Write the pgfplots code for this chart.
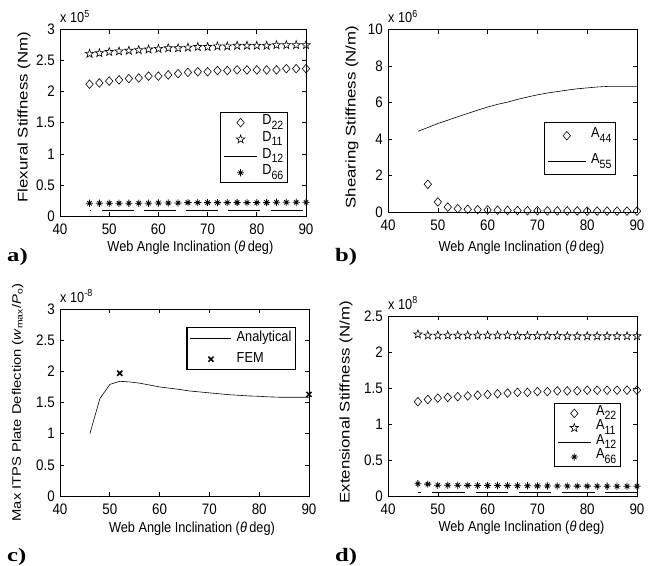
\documentclass[border=0pt]{standalone}
\usepackage{fontspec}
\setmainfont{Liberation Sans}[FakeStretch=0.88]
\newfontfamily\vfont{Liberation Sans}[FakeStretch=1.2]
\newfontfamily\lfont{Liberation Serif}[FakeStretch=1.3]
\usepackage{pgfplots}
\pgfplotsset{compat=1.18}
\newcommand\hf{\fontsize{14.5}{16}\selectfont}
\newcommand\tf{\fontsize{15.2}{16}\selectfont}
\newcommand\vf{\vfont\fontsize{14}{15}\selectfont}
\newcommand\sub[1]{\raisebox{-4.5pt}{\fontsize{12}{12}\selectfont #1}}
\pgfdeclareplotmark{pentagram}{%
  \pgfpathmoveto{\pgfpointpolar{90}{\pgfplotmarksize}}%
  \pgfpathlineto{\pgfpointpolar{126}{0.4*\pgfplotmarksize}}%
  \pgfpathlineto{\pgfpointpolar{162}{\pgfplotmarksize}}%
  \pgfpathlineto{\pgfpointpolar{198}{0.4*\pgfplotmarksize}}%
  \pgfpathlineto{\pgfpointpolar{234}{\pgfplotmarksize}}%
  \pgfpathlineto{\pgfpointpolar{270}{0.4*\pgfplotmarksize}}%
  \pgfpathlineto{\pgfpointpolar{306}{\pgfplotmarksize}}%
  \pgfpathlineto{\pgfpointpolar{342}{0.4*\pgfplotmarksize}}%
  \pgfpathlineto{\pgfpointpolar{18}{\pgfplotmarksize}}%
  \pgfpathlineto{\pgfpointpolar{54}{0.4*\pgfplotmarksize}}%
  \pgfpathclose\pgfusepathqstroke}
\pgfdeclareplotmark{mlstar}{%
  \pgfpathmoveto{\pgfqpoint{-\pgfplotmarksize}{0pt}}\pgfpathlineto{\pgfqpoint{\pgfplotmarksize}{0pt}}%
  \pgfpathmoveto{\pgfqpoint{0pt}{-\pgfplotmarksize}}\pgfpathlineto{\pgfqpoint{0pt}{\pgfplotmarksize}}%
  \pgfpathmoveto{\pgfqpoint{-.6\pgfplotmarksize}{-.6\pgfplotmarksize}}\pgfpathlineto{\pgfqpoint{.6\pgfplotmarksize}{.6\pgfplotmarksize}}%
  \pgfpathmoveto{\pgfqpoint{-.6\pgfplotmarksize}{.6\pgfplotmarksize}}\pgfpathlineto{\pgfqpoint{.6\pgfplotmarksize}{-.6\pgfplotmarksize}}%
  \pgfusepathqstroke}
\pgfplotsset{
  mat/.style={
    scale only axis, clip=false,
    xmin=40, xmax=90, xtick={40,50,...,90},
    tick align=inside, major tick length=4pt,
    every tick/.style={black, line width=0.6pt},
    axis line style={line width=0.8pt},
    tick label style={font=\tf, inner sep=1pt},
    xticklabel style={yshift=-6.5pt},
    yticklabel style={xshift=-4pt},
    /pgf/number format/assume math mode=true,
    legend cell align=left,
    legend style={draw=black, line width=1.4pt, fill=white, inner xsep=3pt, inner ysep=2pt, font=\hf,
       /tikz/every odd column/.append style={column sep=4pt}},
    xlabel={Web Angle Inclination (\textit{θ}\,deg)},
    xlabel style={font=\hf, anchor=center},
    ylabel style={font=\vf, anchor=center},
  },
  dia/.style={only marks, mark=diamond, mark size=4.3pt, line width=0.6pt, mark options={xscale=1.15, solid}},
  pst/.style={only marks, mark=pentagram, mark size=4.4pt, line width=0.6pt},
  ast/.style={only marks, mark=mlstar, mark size=3.6pt, line width=0.8pt},
}
\begin{document}
\begin{tikzpicture}
\useasboundingbox (0pt,0pt) rectangle (658pt,-565pt);
% ---------------- a ----------------
\begin{axis}[mat, width=246pt, height=186.5pt, at={(60pt,-216pt)}, anchor=south west,
  ymin=0, ymax=3, ytick={0,0.5,...,3},
  ylabel={Flexural Stiffness (Nm)},
  ylabel style={at={(rel axis cs:-0.146,0.53)}},
  xlabel style={at={(rel axis cs:0.53,-0.1716)}},
  legend image code/.code={\draw[mark repeat=2,mark phase=2,#1] plot coordinates {(0pt,0pt)(16.5pt,0pt)(33pt,0pt)};},
  legend style={at={(rel axis cs:0.927,0.558)}, anchor=north east,
    nodes={inner sep=1pt, text height=9pt, text depth=5pt}, row sep=0.7pt},
]
\addplot[dia] coordinates {(46,2.12)(48,2.14)(50,2.17)(52,2.19)(54,2.21)(56,2.22)(58,2.25)(60,2.25)(62,2.27)(64,2.29)(66,2.31)(68,2.32)(70,2.32)(72,2.34)(74,2.34)(76,2.35)(78,2.35)(80,2.35)(82,2.35)(84,2.35)(86,2.37)(88,2.37)(90,2.37)};
\addlegendentry{D\sub{22}}
\addplot[pst] coordinates {(46,2.61)(48,2.62)(50,2.64)(52,2.65)(54,2.66)(56,2.67)(58,2.68)(60,2.69)(62,2.70)(64,2.70)(66,2.71)(68,2.72)(70,2.72)(72,2.73)(74,2.73)(76,2.74)(78,2.74)(80,2.74)(82,2.74)(84,2.75)(86,2.75)(88,2.75)(90,2.75)};
\addlegendentry{D\sub{11}}
\addplot[forget plot, line width=0.6pt, dash pattern=on 32pt off 10.3pt, dash phase=30.3pt] coordinates {(46,0.085)(90,0.085)};
\addlegendimage{line width=0.6pt, mark=none}
\addlegendentry{D\sub{12}}
\addplot[ast] coordinates {(46,0.205)(48,0.205)(50,0.205)(52,0.205)(54,0.205)(56,0.205)(58,0.205)(60,0.21)(62,0.21)(64,0.21)(66,0.215)(68,0.215)(70,0.215)(72,0.215)(74,0.215)(76,0.215)(78,0.215)(80,0.215)(82,0.215)(84,0.22)(86,0.22)(88,0.22)(90,0.22)};
\addlegendentry{D\sub{66}}
\node[anchor=base west, font=\hf, inner sep=0pt, yshift=7pt] at (rel axis cs:0,1) {x 10\textsuperscript{5}};
\end{axis}
% ---------------- b ----------------
\begin{axis}[mat, width=249pt, height=182.5pt, at={(388pt,-212pt)}, anchor=south west,
  ymin=0, ymax=10, ytick={0,2,...,10},
  ylabel={Shearing Stiffness (N/m)},
  ylabel style={at={(rel axis cs:-0.145,0.52)}},
  xlabel style={at={(rel axis cs:0.536,-0.197)}},
  legend image code/.code={\draw[mark repeat=2,mark phase=2,#1] plot coordinates {(0pt,0pt)(19pt,0pt)(38pt,0pt)};},
  legend style={at={(rel axis cs:0.916,0.493)}, anchor=north east,
    nodes={inner sep=1pt, text height=9pt, text depth=5pt}, row sep=10pt, inner ysep=5pt},
]
\addplot[dia] coordinates {(48,1.52)(50,0.55)(52,0.27)(54,0.18)(56,0.15)(58,0.13)(60,0.11)(62,0.10)(64,0.09)(66,0.08)(68,0.07)(70,0.07)(72,0.06)(74,0.06)(76,0.06)(78,0.06)(80,0.05)(82,0.05)(84,0.05)(86,0.05)(88,0.05)(90,0.05)};
\addlegendentry{A\sub{44}}
\addplot[line width=0.6pt, mark=none] coordinates {(46,4.42)(48,4.63)(50,4.85)(52,5.03)(54,5.22)(56,5.40)(58,5.58)(60,5.75)(62,5.90)(64,6.02)(66,6.17)(68,6.30)(70,6.42)(72,6.52)(74,6.60)(76,6.68)(78,6.75)(80,6.80)(82,6.85)(84,6.88)(86,6.88)(88,6.88)(90,6.88)};
\addlegendentry{A\sub{55}}
\node[anchor=base west, font=\hf, inner sep=0pt, yshift=7pt] at (rel axis cs:0,1) {x 10\textsuperscript{6}};
\end{axis}
% ---------------- c ----------------
\begin{axis}[mat, width=249pt, height=187pt, at={(60pt,-496pt)}, anchor=south west,
  ymin=0, ymax=3, ytick={0,0.5,...,3},
  ylabel={Max ITPS Plate Deflection (\textit{w}\textsubscript{max}/\textit{P}\textsubscript{o})},
  ylabel style={at={(rel axis cs:-0.17,0.5)}, font=\vfont\fontsize{12.3}{14}\selectfont},
  xlabel style={at={(rel axis cs:0.53,-0.176)}},
  legend image code/.code={\draw[mark repeat=2,mark phase=2,#1] plot coordinates {(0pt,0pt)(20.5pt,0pt)(41pt,0pt)};},
  legend style={at={(rel axis cs:0.948,0.904)}, anchor=north east,
    nodes={inner sep=1pt, text height=10pt, text depth=3pt}, row sep=6pt, inner ysep=3pt},
]
\addplot[line width=0.6pt, mark=none] coordinates {(46,1.0)(48,1.56)(50,1.79)(52,1.84)(54,1.83)(56,1.81)(58,1.78)(60,1.75)(62,1.73)(64,1.71)(66,1.685)(68,1.67)(70,1.655)(72,1.64)(74,1.625)(76,1.615)(78,1.605)(80,1.60)(82,1.59)(84,1.585)(86,1.585)(88,1.585)(90,1.585)};
\addlegendentry{Analytical}
\addplot[only marks, mark=x, mark size=3.6pt, line width=1.5pt] coordinates {(52,1.97)(90,1.63)};
\addlegendentry{FEM}
\node[anchor=base west, font=\hf, inner sep=0pt, yshift=7pt] at (rel axis cs:0,1) {x 10\textsuperscript{-8}};
\end{axis}
% ---------------- d ----------------
\begin{axis}[mat, width=249pt, height=180pt, at={(388pt,-496pt)}, anchor=south west,
  ymin=0, ymax=2.5, ytick={0,0.5,...,2.5},
  ylabel={Extensional Stiffness (N/m)},
  ylabel style={at={(rel axis cs:-0.169,0.52)}},
  xlabel style={at={(rel axis cs:0.536,-0.178)}},
  legend image code/.code={\draw[mark repeat=2,mark phase=2,#1] plot coordinates {(0pt,0pt)(16.5pt,0pt)(33pt,0pt)};},
  legend style={at={(rel axis cs:0.936,0.517)}, anchor=north east,
    nodes={inner sep=1pt, text height=8.5pt, text depth=5pt}, row sep=-1pt},
]
\addplot[dia] coordinates {(46,1.31)(48,1.34)(50,1.36)(52,1.37)(54,1.38)(56,1.39)(58,1.40)(60,1.41)(62,1.42)(64,1.43)(66,1.44)(68,1.44)(70,1.45)(72,1.45)(74,1.46)(76,1.46)(78,1.46)(80,1.47)(82,1.47)(84,1.47)(86,1.47)(88,1.47)(90,1.47)};
\addlegendentry{A\sub{22}}
\addplot[pst] coordinates {(46,2.245)(48,2.23)(50,2.23)(52,2.23)(54,2.23)(56,2.23)(58,2.23)(60,2.23)(62,2.23)(64,2.23)(66,2.225)(68,2.225)(70,2.225)(72,2.225)(74,2.225)(76,2.22)(78,2.22)(80,2.22)(82,2.22)(84,2.22)(86,2.22)(88,2.22)(90,2.22)};
\addlegendentry{A\sub{11}}
\addplot[forget plot, line width=0.6pt, dash pattern=on 32.4pt off 10.9pt, dash phase=28.9pt] coordinates {(46,0.05)(90,0.05)};
\addlegendimage{line width=0.6pt, mark=none}
\addlegendentry{A\sub{12}}
\addplot[ast] coordinates {(46,0.17)(48,0.165)(50,0.15)(52,0.15)(54,0.15)(56,0.148)(58,0.146)(60,0.145)(62,0.145)(64,0.144)(66,0.143)(68,0.142)(70,0.141)(72,0.14)(74,0.139)(76,0.138)(78,0.137)(80,0.137)(82,0.136)(84,0.136)(86,0.135)(88,0.135)(90,0.135)};
\addlegendentry{A\sub{66}}
\node[anchor=base west, font=\hf, inner sep=0pt, yshift=7pt] at (rel axis cs:0,1) {x 10\textsuperscript{8}};
\end{axis}
% panel letters
\node[anchor=base west, inner sep=0pt, font=\lfont\bfseries\fontsize{19}{19}\selectfont] at (7pt,-261pt) {a)};
\node[anchor=base west, inner sep=0pt, font=\lfont\bfseries\fontsize{19}{19}\selectfont] at (335pt,-261pt) {b)};
\node[anchor=base west, inner sep=0pt, font=\lfont\bfseries\fontsize{19}{19}\selectfont] at (7pt,-561pt) {c)};
\node[anchor=base west, inner sep=0pt, font=\lfont\bfseries\fontsize{19}{19}\selectfont] at (335pt,-561pt) {d)};
\end{tikzpicture}
\end{document}
